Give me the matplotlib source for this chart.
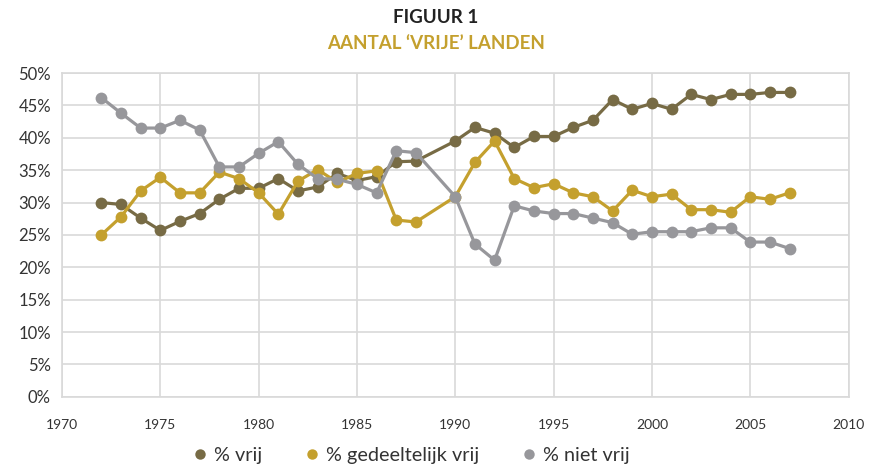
import matplotlib
matplotlib.use("Agg")
import matplotlib.pyplot as plt
from matplotlib.lines import Line2D

plt.rcParams['font.family'] = ['Lato', 'DejaVu Sans']

years = [1972, 1973, 1974, 1975, 1976, 1977, 1978, 1979, 1980, 1981, 1982,
         1983, 1984, 1985, 1986, 1987, 1988, 1990, 1991, 1992, 1993, 1994,
         1995, 1996, 1997, 1998, 1999, 2000, 2001, 2002, 2003, 2004, 2005,
         2006, 2007]

vrij = [30.0, 29.7, 27.6, 25.7, 27.1, 28.3, 30.5, 32.2, 32.2, 33.7, 31.8,
        32.4, 34.5, 33.4, 34.0, 36.3, 36.4, 39.5, 41.6, 40.7, 38.5, 40.2,
        40.2, 41.6, 42.7, 45.9, 44.4, 45.3, 44.4, 46.7, 45.9, 46.7, 46.7,
        47.0, 47.0]

gedeeltelijk = [25.0, 27.8, 31.8, 33.9, 31.5, 31.5, 34.7, 33.7, 31.5, 28.2, 33.3,
                35.1, 33.1, 34.5, 34.9, 27.3, 27.0, 30.9, 36.2, 39.5, 33.7, 32.3,
                32.9, 31.5, 30.9, 28.7, 31.9, 30.9, 31.3, 28.9, 28.9, 28.5, 30.9,
                30.5, 31.5]

niet_vrij = [46.2, 43.8, 41.5, 41.5, 42.7, 41.2, 35.5, 35.5, 37.6, 39.4, 35.9,
             33.7, 33.6, 32.8, 31.5, 38.0, 37.7, 30.9, 23.6, 21.1, 29.5, 28.7,
             28.3, 28.3, 27.6, 26.9, 25.1, 25.5, 25.5, 25.5, 26.1, 26.1, 23.9,
             23.9, 22.9]

labels = ['% vrij', '% gedeeltelijk vrij', '% niet vrij']
colors = ['#776b45', '#c4a02e', '#97979b']

fig = plt.figure(figsize=(8.7, 4.68), dpi=100)
ax = fig.add_axes([0.0713, 0.152, 0.904, 0.692])

for vals, col in zip([vrij, gedeeltelijk, niet_vrij], colors):
    ax.plot(years, vals, color=col, lw=2.3, marker='o', markersize=8.5,
            markeredgewidth=0, zorder=3)

ax.set_xlim(1970, 2010)
ax.set_ylim(0, 50)
ax.set_xticks(range(1970, 2011, 5))
ax.set_yticks(range(0, 51, 5))
ax.set_yticklabels([f"{v}%" for v in range(0, 51, 5)], fontsize=12, color='#333333')
ax.set_xticklabels([str(v) for v in range(1970, 2011, 5)], fontsize=10, color='#333333')
ax.tick_params(length=0)
ax.tick_params(axis='x', pad=16)
ax.tick_params(axis='y', pad=8)
ax.grid(True, color='#d9d9d9', lw=1.2)
ax.set_axisbelow(True)
for s in ax.spines.values():
    s.set_color('#d9d9d9')
    s.set_linewidth(1.2)

fig.text(0.501, 0.962, 'FIGUUR 1', ha='center', va='center', fontsize=13.5,
         fontweight='bold', color='#222222')
fig.text(0.501, 0.908, 'AANTAL \u2018VRIJE\u2019 LANDEN', ha='center', va='center',
         fontsize=13.5, fontweight='bold', color='#c4a02e')

handles = [Line2D([], [], ls='none', marker='o', markersize=7.5, color=c,
                  markeredgewidth=0) for c in colors]
fig.legend(handles, labels, loc='center', bbox_to_anchor=(0.47, 0.026), ncol=3,
           frameon=False, fontsize=14.3, handletextpad=0.1, columnspacing=1.9,
           handlelength=1.2, labelcolor='#333333')

fig.savefig('out.png', dpi=100)
